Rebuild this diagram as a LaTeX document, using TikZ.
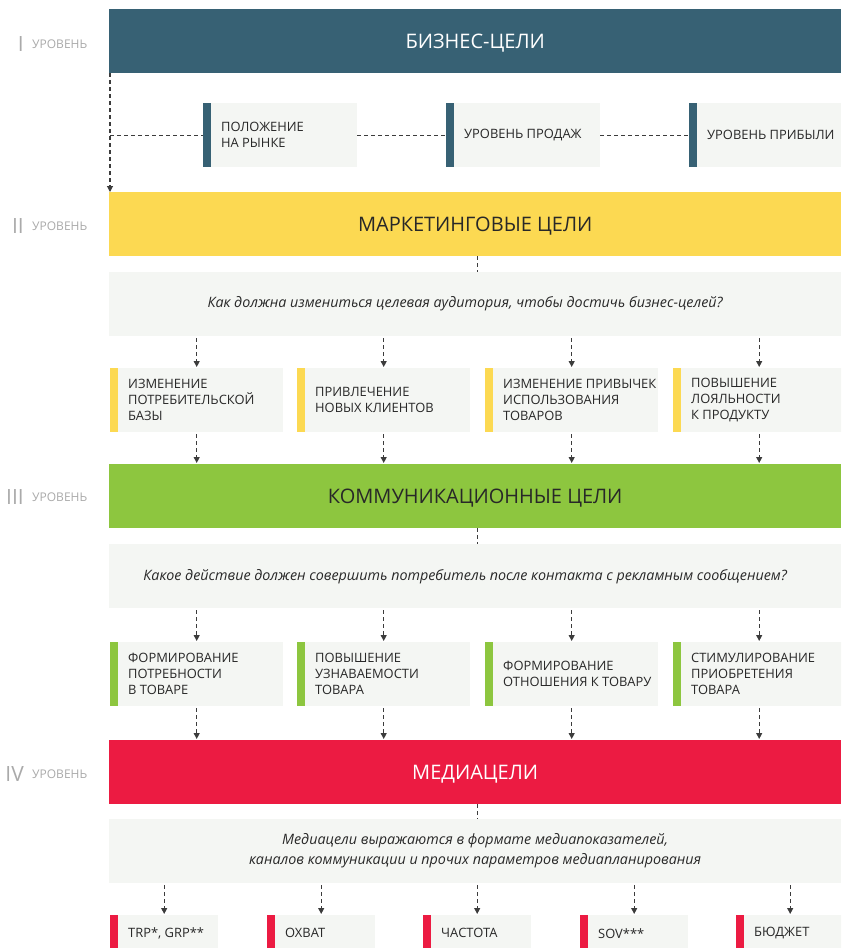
\documentclass[tikz,border=0pt]{standalone}
\usepackage{fontspec}
\setmainfont{Open Sans}
\usetikzlibrary{arrows.meta}
\definecolor{cteal}{RGB}{55,97,116}
\definecolor{cyel}{RGB}{252,217,82}
\definecolor{cgreen}{RGB}{141,198,63}
\definecolor{cred}{RGB}{236,27,66}
\definecolor{cgbox}{RGB}{244,246,243}
\definecolor{ctext}{RGB}{40,40,40}
\definecolor{clvl}{RGB}{170,170,170}
\definecolor{cline}{RGB}{60,60,60}
\tikzset{
  bar/.style={rectangle, inner sep=0pt, minimum height=64pt, minimum width=732pt, font=\fontsize{20}{24}\selectfont},
  bartxt/.style={inner sep=0pt, font=\fontsize{20}{24}\selectfont},
  gbox/.style={rectangle, fill=cgbox, inner sep=0pt},
  btxt/.style={inner sep=0pt, align=left, text=ctext, font=\fontsize{12.9}{16}\selectfont},
  qtxt/.style={inner sep=0pt, align=center, text=ctext, font=\fontsize{14.3}{20}\selectfont\itshape},
  lvnum/.style={inner sep=0pt, text=clvl, font=\fontsize{21}{24}\selectfont},
  lvtxt/.style={inner sep=0pt, text=clvl, font=\fontsize{12}{14}\selectfont},
  dline/.style={draw=cline, line width=1.1pt, dash pattern=on 4pt off 3pt},
  darrow/.style={dline, -{Triangle[width=6pt,length=6pt]}},
}
\newcommand\stripebox[7]{% name, x, y, width, height, color, text
  \node[gbox, anchor=north west, minimum width=#4pt, minimum height=#5pt] (#1) at (#2,#3) {};
  \fill[#6] (#1.north west) rectangle ([xshift=8pt]#1.south west);
  \node[btxt, anchor=west] (#1t) at ([xshift=18pt]#1.west) {#7};
}
\newcommand\levellabel[3]{% name, y, numeral
  \node[lvnum, anchor=east] (#1n) at (24,#2) {#3};
  \node[lvtxt, anchor=west] (#1t) at (32,#2) {УРОВЕНЬ};
}
\begin{document}
\begin{tikzpicture}[x=1pt,y=-1pt]
\clip (0,0) rectangle (841,948);
\fill[white] (0,0) rectangle (841,948);

% level labels
\levellabel{l1}{44}{I}
\levellabel{l2}{226}{II}
\levellabel{l3}{497}{III}
\levellabel{l4}{774}{IV}

% bars
\node[bar, fill=cteal, anchor=north west] (b1) at (109,9) {};
\node[bartxt, text=white] (b1t) at ([yshift=-1.5pt]b1.center) {БИЗНЕС-ЦЕЛИ};
\node[bar, fill=cyel, anchor=north west] (b2) at (109,192) {};
\node[bartxt, text=ctext] (b2t) at ([yshift=-1.5pt]b2.center) {МАРКЕТИНГОВЫЕ ЦЕЛИ};
\node[bar, fill=cgreen, anchor=north west] (b3) at (109,464) {};
\node[bartxt, text=ctext] (b3t) at ([yshift=-1.5pt]b3.center) {КОММУНИКАЦИОННЫЕ ЦЕЛИ};
\node[bar, fill=cred, anchor=north west] (b4) at (109,740) {};
\node[bartxt, text=white] (b4t) at ([yshift=-1.5pt]b4.center) {МЕДИАЦЕЛИ};

% row 1
\stripebox{p11}{203}{103}{154}{64}{cteal}{ПОЛОЖЕНИЕ\\НА РЫНКЕ}
\stripebox{p12}{446}{103}{154}{64}{cteal}{УРОВЕНЬ ПРОДАЖ}
\stripebox{p13}{689}{103}{152}{64}{cteal}{УРОВЕНЬ ПРИБЫЛИ}

\coordinate (c0) at ([xshift=1pt]b1.south west);
\coordinate (c1) at (c0 |- p11.west);
\draw[darrow] (c0) -- (c0 |- b2.north);
\draw[dline] (c1) -- (p11.west);
\draw[dline] (p11.east) -- (p12.west);
\draw[dline] (p12.east) -- (p13.west);

% question 1
\node[gbox, anchor=north west, minimum width=732pt, minimum height=64pt] (q1) at (109,272) {};
\node[qtxt] (q1t) at ([xshift=-10pt]q1.center) {Как должна измениться целевая аудитория, чтобы достичь бизнес-целей?};
\draw[dline] ([xshift=2pt]b2.south) -- ([xshift=2pt]q1.north);

% row 2
\stripebox{p21}{110}{368}{173}{64}{cyel}{ИЗМЕНЕНИЕ\\ПОТРЕБИТЕЛЬСКОЙ\\БАЗЫ}
\stripebox{p22}{297}{368}{173}{64}{cyel}{ПРИВЛЕЧЕНИЕ\\НОВЫХ КЛИЕНТОВ}
\stripebox{p23}{485}{368}{173}{64}{cyel}{ИЗМЕНЕНИЕ ПРИВЫЧЕК\\ИСПОЛЬЗОВАНИЯ\\ТОВАРОВ}
\stripebox{p24}{673}{368}{172}{64}{cyel}{ПОВЫШЕНИЕ\\ЛОЯЛЬНОСТИ\\К ПРОДУКТУ}
\foreach \p in {p21,p22,p23,p24}{
  \draw[darrow] ([yshift=-2pt]q1.south -| \p.north) -- ([yshift=1pt]\p.north);
  \draw[darrow] ([yshift=-2pt]\p.south) -- ([yshift=1pt]\p.south |- b3.north);
}

% question 2
\node[gbox, anchor=north west, minimum width=732pt, minimum height=64pt] (q2) at (109,544) {};
\node[qtxt] (q2t) at ([xshift=-10pt]q2.center) {Какое действие должен совершить потребитель после контакта с рекламным сообщением?};
\draw[dline] ([xshift=2pt]b3.south) -- ([xshift=2pt]q2.north);

% row 3
\stripebox{p31}{110}{642}{173}{64}{cgreen}{ФОРМИРОВАНИЕ\\ПОТРЕБНОСТИ\\В ТОВАРЕ}
\stripebox{p32}{297}{642}{173}{64}{cgreen}{ПОВЫШЕНИЕ\\УЗНАВАЕМОСТИ\\ТОВАРА}
\stripebox{p33}{485}{642}{173}{64}{cgreen}{ФОРМИРОВАНИЕ\\ОТНОШЕНИЯ К ТОВАРУ}
\stripebox{p34}{673}{642}{172}{64}{cgreen}{СТИМУЛИРОВАНИЕ\\ПРИОБРЕТЕНИЯ\\ТОВАРА}
\foreach \p in {p31,p32,p33,p34}{
  \draw[darrow] ([yshift=-2pt]q2.south -| \p.north) -- ([yshift=1pt]\p.north);
  \draw[darrow] ([yshift=-2pt]\p.south) -- ([yshift=1pt]\p.south |- b4.north);
}

% question 3
\node[gbox, anchor=north west, minimum width=732pt, minimum height=64pt] (q3) at (109,819) {};
\node[qtxt] (q3t) at (q3.center) {Медиацели выражаются в формате медиапоказателей,\\каналов коммуникации и прочих параметров медиапланирования};
\draw[dline] ([xshift=2pt]b4.south) -- ([xshift=2pt]q3.north);

% row 4
\stripebox{p41}{110}{915}{108}{36}{cred}{TRP*, GRP**}
\stripebox{p42}{267}{915}{108}{36}{cred}{ОХВАТ}
\stripebox{p43}{423}{915}{108}{36}{cred}{ЧАСТОТА}
\stripebox{p44}{580}{915}{108}{36}{cred}{SOV***}
\stripebox{p45}{736}{915}{108}{36}{cred}{БЮДЖЕТ}
\foreach \p in {p41,p42,p43,p44,p45}{
  \draw[darrow] ([yshift=-2pt]q3.south -| \p.north) -- ([yshift=1pt]\p.north);
}
\end{tikzpicture}
\end{document}
